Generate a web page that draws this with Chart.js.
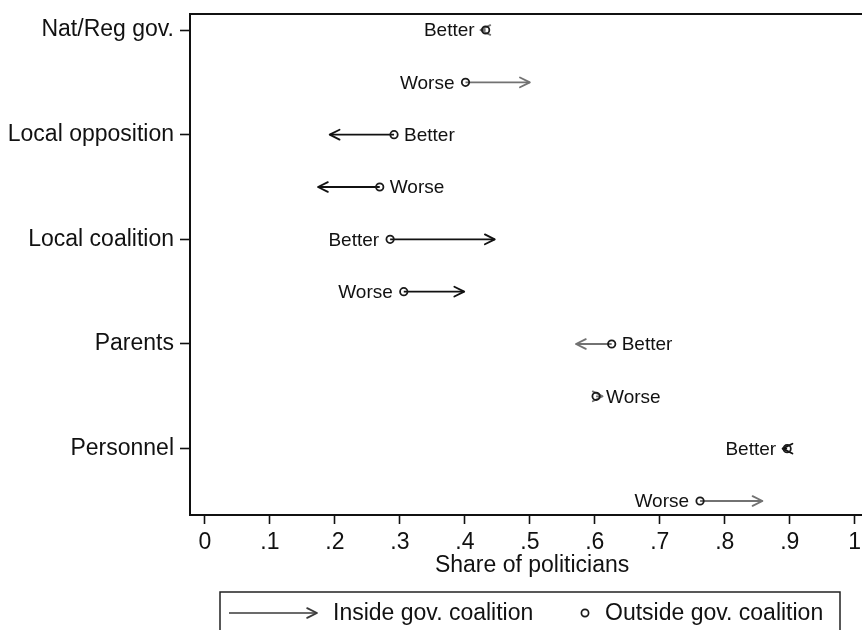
<!DOCTYPE html>
<html>
<head>
<meta charset="utf-8">
<title>Share of politicians</title>
<script src="https://cdn.jsdelivr.net/npm/chart.js@4/dist/chart.umd.min.js"></script>
<style>
  html, body { margin: 0; padding: 0; background: #fff; overflow: hidden; width: 862px; height: 630px; }
  #wrap { position: absolute; left: 0; top: 0; width: 880px; height: 660px; }
</style>
</head>
<body>
<div id="wrap"><canvas id="chart" width="880" height="660"></canvas></div>
<script>
// ---- data ----
const groups = ['Nat/Reg gov.', 'Local opposition', 'Local coalition', 'Parents', 'Personnel'];
const outcomes = ['Better', 'Worse'];

// share of politicians outside the governing coalition (arrow start)
const outsideBetter = [0.432, 0.291, 0.285, 0.626, 0.896];
const outsideWorse  = [0.401, 0.269, 0.306, 0.602, 0.762];
// share of politicians inside the governing coalition (arrow end)
const insideBetter  = [0.424, 0.192, 0.446, 0.571, 0.889];
const insideWorse   = [0.500, 0.174, 0.399, 0.612, 0.858];
// significant differences are drawn in black, the rest in grey
const significantBetter = [false, true, true, false, true];
const significantWorse  = [false, true, true, false, false];

const xTickValues = [0, 0.1, 0.2, 0.3, 0.4, 0.5, 0.6, 0.7, 0.8, 0.9, 1];
const xTickLabels = ['0', '.1', '.2', '.3', '.4', '.5', '.6', '.7', '.8', '.9', '1'];
const xTitle = 'Share of politicians';
const legendLabels = ['Inside gov. coalition', 'Outside gov. coalition'];

// ---- rows: each group has a Better row and a Worse row ----
const rows = [];
groups.forEach((g, i) => {
  rows.push({ label: outcomes[0], y: 2 * i,     outside: outsideBetter[i], inside: insideBetter[i], sig: significantBetter[i] });
  rows.push({ label: outcomes[1], y: 2 * i + 1, outside: outsideWorse[i],  inside: insideWorse[i],  sig: significantWorse[i] });
});

const FONT = "'Liberation Sans', Arial, Helvetica, sans-serif";
const INK = '#111111';
const GREY = '#727272';
// which side of the circle each Better/Worse label sits on
const labelSide = ['left', 'left', 'right', 'right', 'left', 'left', 'right', 'right', 'left', 'left'];

Chart.defaults.font.family = FONT;
Chart.defaults.color = INK;

function drawArrowHead(ctx, x0, y0, x1, y1, color) {
  const ang = Math.atan2(y1 - y0, x1 - x0);
  const len = 11, spread = Math.PI / 6.8;
  ctx.save();
  ctx.strokeStyle = color;
  ctx.lineWidth = 1.8;
  ctx.lineCap = 'round';
  ctx.lineJoin = 'round';
  ctx.beginPath();
  ctx.moveTo(x1 - len * Math.cos(ang - spread), y1 - len * Math.sin(ang - spread));
  ctx.lineTo(x1, y1);
  ctx.lineTo(x1 - len * Math.cos(ang + spread), y1 - len * Math.sin(ang + spread));
  ctx.stroke();
  ctx.restore();
}

const circleDataset = {
  type: 'scatter',
  label: legendLabels[1],
  data: rows.map(r => ({ x: r.outside, y: r.y })),
  pointStyle: 'circle',
  pointRadius: 3.7,
  pointBorderWidth: 1.8,
  pointBorderColor: '#1a1a1a',
  pointBackgroundColor: 'rgba(255,255,255,0)',
  showLine: false,
  isCircles: true
};

const arrowDatasets = rows.map(r => ({
  type: 'line',
  label: legendLabels[0],
  data: [{ x: r.outside, y: r.y }, { x: r.inside, y: r.y }],
  borderColor: r.sig ? INK : GREY,
  borderWidth: 1.8,
  pointRadius: 0,
  fill: false,
  tension: 0,
  isArrow: true
}));

const arrowHeads = {
  id: 'arrowHeads',
  afterDatasetDraw(chart, args) {
    const ds = chart.data.datasets[args.index];
    if (!ds.isArrow) return;
    const pts = args.meta.data;
    drawArrowHead(chart.ctx, pts[0].x, pts[0].y, pts[1].x, pts[1].y, ds.borderColor);
  }
};

const pointLabels = {
  id: 'pointLabels',
  afterDatasetsDraw(chart) {
    const idx = chart.data.datasets.findIndex(d => d.isCircles);
    const meta = chart.getDatasetMeta(idx);
    const ctx = chart.ctx;
    ctx.save();
    ctx.font = '19px ' + FONT;
    ctx.fillStyle = INK;
    ctx.textBaseline = 'middle';
    meta.data.forEach((pt, i) => {
      const left = labelSide[i] === 'left';
      ctx.textAlign = left ? 'right' : 'left';
      ctx.fillText(rows[i].label, pt.x + (left ? -11 : 10), pt.y + 1);
    });
    ctx.restore();
  }
};

const frame = {
  id: 'frame',
  afterDraw(chart) {
    const { ctx, chartArea: a } = chart;
    ctx.save();
    ctx.strokeStyle = INK;
    ctx.lineWidth = 2;
    ctx.beginPath();
    ctx.moveTo(a.left, a.top);
    ctx.lineTo(a.right, a.top);
    ctx.lineTo(a.right, a.bottom);
    ctx.stroke();

    // legend box
    const bx = 220, by = 592, bw = 620, bh = 80, my = 613;
    ctx.lineWidth = 1.5;
    ctx.strokeStyle = '#222';
    ctx.strokeRect(bx, by, bw, bh);

    ctx.strokeStyle = '#3a3a3a';
    ctx.lineWidth = 1.6;
    ctx.beginPath();
    ctx.moveTo(229, my);
    ctx.lineTo(317, my);
    ctx.stroke();
    drawArrowHead(ctx, 229, my, 317, my, '#3a3a3a');

    ctx.beginPath();
    ctx.arc(585, my, 3.6, 0, Math.PI * 2);
    ctx.lineWidth = 1.7;
    ctx.strokeStyle = '#1a1a1a';
    ctx.stroke();

    ctx.font = '23px ' + FONT;
    ctx.fillStyle = INK;
    ctx.textBaseline = 'middle';
    ctx.textAlign = 'left';
    ctx.fillText(legendLabels[0], 333, my + 1);
    ctx.fillText(legendLabels[1], 605, my + 1);
    ctx.restore();
  }
};

new Chart(document.getElementById('chart'), {
  data: { datasets: [circleDataset, ...arrowDatasets] },
  options: {
    responsive: false,
    animation: false,
    events: [],
    layout: { padding: { top: 14, right: 5.5, left: 0, bottom: 0 } },
    plugins: { legend: { display: false }, tooltip: { enabled: false } },
    scales: {
      x: {
        type: 'linear',
        position: 'bottom',
        min: -0.023,
        max: 1.03,
        afterBuildTicks(scale) { scale.ticks = xTickValues.map(v => ({ value: v })); },
        afterFit(scale) {
          scale.height = 145;
          scale.paddingLeft = 0;
          scale.paddingRight = 0;
        },
        ticks: {
          autoSkip: false,
          maxRotation: 0,
          padding: 5,
          color: INK,
          font: { size: 23, family: FONT },
          callback(v) { const i = xTickValues.findIndex(t => Math.abs(t - v) < 1e-9); return i >= 0 ? xTickLabels[i] : ''; }
        },
        grid: { display: true, drawOnChartArea: false, drawTicks: true, tickLength: 9, tickWidth: 1.6, tickColor: INK },
        border: { display: true, color: INK, width: 2 },
        title: { display: true, text: xTitle, color: INK, font: { size: 23, family: FONT }, padding: { top: 0, bottom: 80.2 } }
      },
      y: {
        type: 'linear',
        position: 'left',
        reverse: true,
        min: -0.306,
        max: 9.268,
        afterBuildTicks(scale) { scale.ticks = groups.map((g, i) => ({ value: 2 * i })); },
        afterFit(scale) {
          scale.width = 190;
          scale.paddingTop = 0;
          scale.paddingBottom = 0;
        },
        ticks: {
          autoSkip: false,
          padding: 6,
          color: INK,
          font: { size: 23, family: FONT },
          callback(v) { return groups[Math.round(v / 2)]; }
        },
        grid: { display: true, drawOnChartArea: false, drawTicks: true, tickLength: 10, tickWidth: 1.6, tickColor: INK },
        border: { display: true, color: INK, width: 2 }
      }
    }
  },
  plugins: [arrowHeads, pointLabels, frame]
});
</script>
</body>
</html>
